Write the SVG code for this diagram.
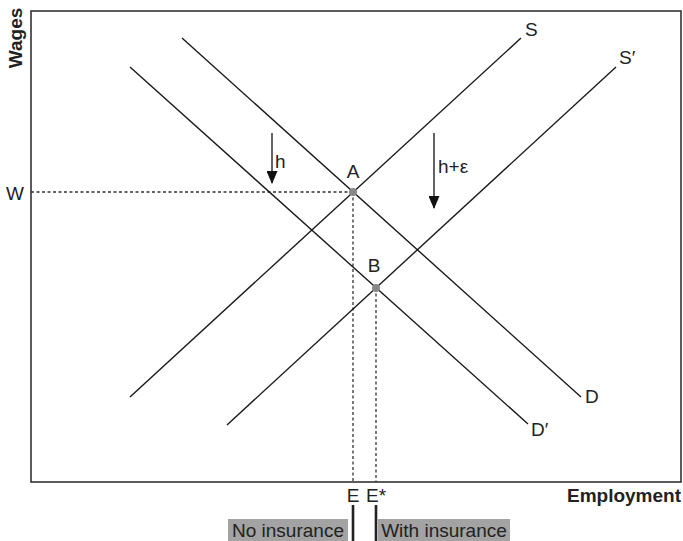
<svg xmlns="http://www.w3.org/2000/svg" width="683" height="541" viewBox="0 0 683 541">
<style>
.t{font-family:"Liberation Sans",Arial,sans-serif;font-size:19px;fill:#222}
.b{font-weight:bold}
.curve{stroke:#1a1a1a;stroke-width:1.4;fill:none}
.dot{stroke:#333;stroke-width:1.3;stroke-dasharray:3,2.5;fill:none}
.pt{fill:#888}
.box{fill:#a3a3a3}
.bar{stroke:#222;stroke-width:2.6}
</style>
<defs>
<marker id="ah" markerWidth="13" markerHeight="11" refX="12" refY="5.5" orient="auto" markerUnits="userSpaceOnUse" viewBox="0 0 13 11">
<path d="M0,0 L13,5.5 L0,11 Z" fill="#111"/>
</marker>
</defs>
<rect x="31" y="11" width="650" height="471" fill="none" stroke="#333" stroke-width="1.6"/>
<g id="axes-labels">
<text class="t b" transform="translate(22,38) rotate(-90)" text-anchor="middle">Wages</text>
<text class="t b" x="681" y="502" text-anchor="end">Employment</text>
<text class="t" x="15" y="200" text-anchor="middle">W</text>
</g>
<g id="connectors">
<line class="dot" x1="31" y1="192" x2="353" y2="192"/>
<line class="dot" x1="353" y1="192" x2="353" y2="482"/>
<line class="dot" x1="376" y1="288" x2="376" y2="482"/>
<line class="bar" x1="353" y1="505" x2="353" y2="541"/>
<line class="bar" x1="376" y1="505" x2="376" y2="541"/>
<line stroke="#222" stroke-width="1.4" x1="272" y1="133" x2="272" y2="183" marker-end="url(#ah)"/>
<line stroke="#222" stroke-width="1.4" x1="434" y1="133" x2="434" y2="208" marker-end="url(#ah)"/>
</g>
<g id="curve-D"><line class="curve" x1="182" y1="38" x2="581" y2="397"/><text class="t" x="585" y="403">D</text></g>
<g id="curve-Dprime"><line class="curve" x1="130" y1="67" x2="528" y2="424"/><text class="t" x="531" y="436">D′</text></g>
<g id="curve-S"><line class="curve" x1="130" y1="397" x2="521" y2="38"/><text class="t" x="525" y="36">S</text></g>
<g id="curve-Sprime"><line class="curve" x1="227" y1="425" x2="616" y2="67"/><text class="t" x="619" y="64">S′</text></g>
<g id="point-A"><circle class="pt" cx="353" cy="192" r="4"/><text class="t" x="353" y="178" text-anchor="middle">A</text></g>
<g id="point-B"><circle class="pt" cx="376" cy="288" r="4"/><text class="t" x="374" y="272" text-anchor="middle">B</text></g>
<g id="label-h"><text class="t" x="275" y="168">h</text></g>
<g id="label-he"><text class="t" x="438" y="173">h+ε</text></g>
<g id="label-E"><text class="t" x="353" y="502" text-anchor="middle">E</text></g>
<g id="label-Estar"><text class="t" x="376" y="502" text-anchor="middle">E*</text></g>
<g id="no-insurance"><rect class="box" x="228" y="519" width="120" height="22"/><text class="t" x="288" y="537" text-anchor="middle">No insurance</text></g>
<g id="with-insurance"><rect class="box" x="378" y="519" width="132" height="22"/><text class="t" x="444" y="537" text-anchor="middle">With insurance</text></g>
</svg>
